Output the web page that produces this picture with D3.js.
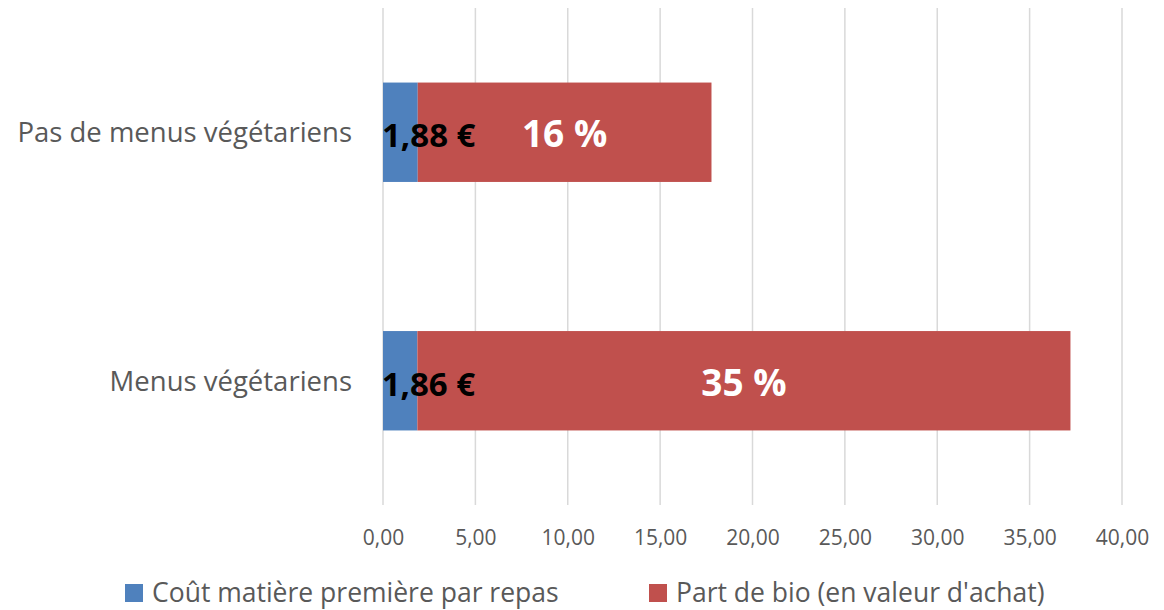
<!DOCTYPE html>
<html><head><meta charset="utf-8">
<script src="https://cdn.jsdelivr.net/npm/d3@7"></script>
<style>body{margin:0;background:#fff;} svg{display:block;font-family:"Open Sans",sans-serif;}</style>
</head><body>
<svg id="c" width="1164" height="610"></svg>
<script>
const categories = ["Pas de menus végétariens", "Menus végétariens"];
const seriesNames = ["Coût matière première par repas", "Part de bio (en valeur d'achat)"];
const coutValues = [1.88, 1.86];
const bioValues = [15.9, 35.35];
const coutLabels = ["1,88 €", "1,86 €"];
const bioLabels = ["16 %", "35 %"];
const xTicks = [0, 5, 10, 15, 20, 25, 30, 35, 40];
const colors = ["#4f81bd", "#c0504d"];

const svg = d3.select("#c");
const x = d3.scaleLinear().domain([0, 40]).range([383, 1122]);
const y = d3.scaleBand().domain(categories).range([8, 505]).paddingInner(0.6).paddingOuter(0.3);
const fmt = v => d3.format(".2f")(v).replace(".", ",");

// gridlines
svg.append("g").selectAll("line").data(xTicks).join("line")
  .attr("x1", d => x(d)).attr("x2", d => x(d))
  .attr("y1", 8).attr("y2", 505)
  .attr("stroke", "#d9d9d9").attr("stroke-width", 1.5);

// x axis labels
const xAxis = d3.axisBottom(x).tickValues(xTicks).tickFormat(fmt).tickSize(0).tickPadding(0);
const gx = svg.append("g").attr("transform", "translate(0,530)").call(xAxis);
gx.select(".domain").remove();
gx.selectAll("text").attr("font-family", "Open Sans").attr("font-size", 21).attr("fill", "#595959");

// y axis labels
const yAxis = d3.axisLeft(y).tickSize(0).tickPadding(31);
const gy = svg.append("g").attr("transform", `translate(${x(0)},0)`).call(yAxis);
gy.select(".domain").remove();
gy.selectAll("text").attr("font-family", "Open Sans").attr("font-size", 27.5).attr("fill", "#595959").attr("dy", "0.36em");

const data = categories.map((c, i) => ({c, a: coutValues[i], b: bioValues[i], la: coutLabels[i], lb: bioLabels[i]}));
const stack = d3.stack().keys(["a", "b"])(data);

svg.append("g").selectAll("g").data(stack).join("g")
  .attr("fill", (d, i) => colors[i])
  .selectAll("rect").data(d => d).join("rect")
  .attr("x", d => x(d[0]))
  .attr("width", d => x(d[1]) - x(d[0]))
  .attr("y", d => y(d.data.c))
  .attr("height", y.bandwidth());

// labels
svg.append("g").selectAll("text").data(stack[1]).join("text")
  .attr("x", d => (x(d[0]) + x(d[1])) / 2)
  .attr("y", d => y(d.data.c) + y.bandwidth() / 2)
  .attr("dy", "0.4em")
  .attr("text-anchor", "middle")
  .attr("font-weight", "bold").attr("font-size", 37).attr("fill", "#fff")
  .text(d => d.data.lb);

svg.append("g").selectAll("text").data(stack[0]).join("text")
  .attr("x", d => x(d[1]) + 11)
  .attr("y", d => y(d.data.c) + y.bandwidth() / 2)
  .attr("dy", "0.45em")
  .attr("text-anchor", "middle")
  .attr("font-weight", "bold").attr("font-size", 33).attr("fill", "#000")
  .text(d => d.data.la);

// legend
const legendX = [125, 649];
const lg = svg.append("g").selectAll("g").data(seriesNames).join("g")
  .attr("transform", (d, i) => `translate(${legendX[i]},584)`);
lg.append("rect").attr("width", 18).attr("height", 18).attr("fill", (d, i) => colors[i]);
lg.append("text").attr("x", 27).attr("y", 8).attr("dy", "0.36em")
  .attr("font-size", 26.5).attr("fill", "#595959").text(d => d);
</script>
</body></html>
